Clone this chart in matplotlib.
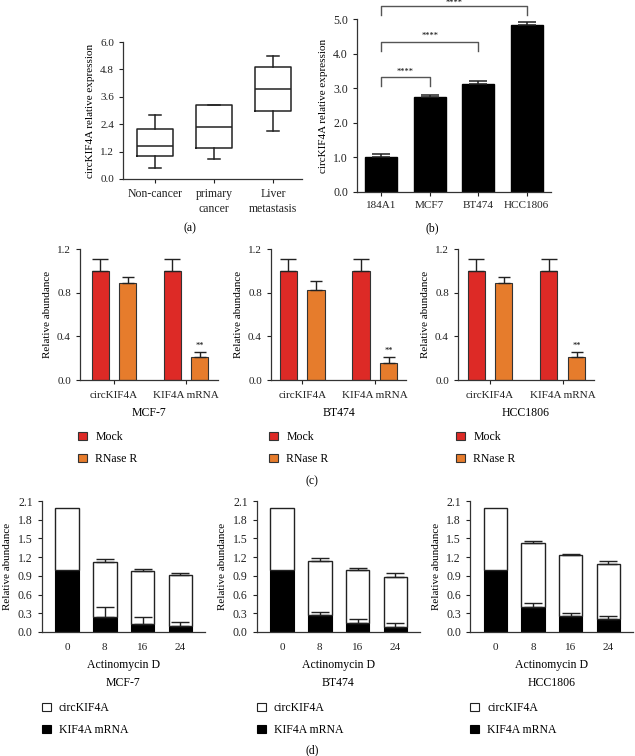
import numpy as np
import matplotlib
matplotlib.use("Agg")
import matplotlib.pyplot as plt
from matplotlib.patches import Patch

plt.rcParams['font.family'] = ['Liberation Serif', 'DejaVu Serif']
plt.rcParams['font.size'] = 8

# (a) box plot stats
groups_a = ["Non-cancer", "primary\ncancer", "Liver\nmetastasis"]
whislo_a = [0.47, 0.87, 2.11]
q1_a = [1.02, 1.34, 2.96]
med_a = [1.44, 2.26, 3.96]
q3_a = [2.21, 3.22, 4.89]
whishi_a = [2.80, 3.26, 5.40]

# (b) cell line expression
cells_b = ["184A1", "MCF7", "BT474", "HCC1806"]
expr_b = [1.0, 2.74, 3.12, 4.84]
err_b = [0.09, 0.07, 0.08, 0.06]
brackets_b = [(0, 1, 3.31), (0, 2, 4.34), (0, 3, 5.39)]

# (c) RNase R assay
cells_c = ["MCF-7", "BT474", "HCC1806"]
genes_c = ["circKIF4A", "KIF4A mRNA"]
mock_c = [[1.0, 1.0], [1.0, 1.0], [1.0, 1.0]]
mock_err_c = [[0.105, 0.105], [0.105, 0.105], [0.105, 0.105]]
rnase_c = [[0.885, 0.208], [0.82, 0.156], [0.885, 0.208]]
rnase_err_c = [[0.055, 0.05], [0.09, 0.052], [0.055, 0.05]]

# (d) actinomycin D time course
times_d = ["0", "8", "16", "24"]
mrna_d = [[1.0, 0.235, 0.133, 0.096],
          [1.0, 0.267, 0.144, 0.085],
          [1.0, 0.40, 0.256, 0.203]]
mrna_err_d = [[0, 0.17, 0.10, 0.07],
              [0, 0.053, 0.059, 0.059],
              [0, 0.064, 0.054, 0.047]]
circ_d = [[0.98, 0.89, 0.847, 0.814],
          [0.98, 0.879, 0.842, 0.80],
          [0.98, 1.023, 0.974, 0.895]]
circ_err_d = [[0, 0.042, 0.03, 0.033],
              [0, 0.037, 0.032, 0.053],
              [0, 0.037, 0.028, 0.042]]

RED = '#dd2a26'
ORANGE = '#e67c2c'
W, H = 635, 756

fig = plt.figure(figsize=(W / 100, H / 100), dpi=100)


def px_axes(x0, y0, x1, y1):
    return fig.add_axes([x0 / W, 1 - y1 / H, (x1 - x0) / W, (y1 - y0) / H])


def style(ax, fs=8):
    for s in ['top', 'right']:
        ax.spines[s].set_visible(False)
    for s in ['left', 'bottom']:
        ax.spines[s].set_linewidth(0.9)
        ax.spines[s].set_color('#333333')
    ax.tick_params(direction='out', length=3, width=0.8, labelsize=fs, colors='#222222')


def ftext(x, y, s, **kw):
    fig.text(x / W, 1 - y / H, s, ha='center', va='center', **kw)


# ---- (a)
ax = px_axes(123, 42, 302, 179)
stats = [dict(whislo=whislo_a[i], q1=q1_a[i], med=med_a[i], q3=q3_a[i],
              whishi=whishi_a[i], fliers=[]) for i in range(3)]
lp = dict(color='#222222', lw=1.1)
ax.bxp(stats, positions=range(3), widths=0.61, capwidths=0.2, showfliers=False,
       boxprops=lp, medianprops=lp, whiskerprops=lp, capprops=lp)
ax.set_xlim(-0.54, 2.49)
ax.set_ylim(0, 6)
ax.set_yticks(np.arange(0, 6.01, 1.2))
ax.set_yticklabels(['%.1f' % v for v in np.arange(0, 6.01, 1.2)])
ax.set_xticks(range(3))
ax.set_xticklabels(groups_a, fontsize=8.5, linespacing=1.3)
ax.set_ylabel("circKIF4A relative expression", fontsize=8)
style(ax)
ax.tick_params(axis='x', labelsize=8.5)
ftext(190, 228, "(a)", fontsize=8.5)

# ---- (b)
ax = px_axes(357, 19, 551, 192)
xb = np.arange(len(cells_b))
ax.bar(xb, expr_b, width=0.66, color='black', edgecolor='black')
ax.errorbar(xb, expr_b, yerr=[np.zeros(len(err_b)), err_b], fmt='none',
            ecolor='#222222', elinewidth=1.1, capsize=6.5, capthick=1.1)
for a, b, h in brackets_b:
    ax.plot([a, a, b, b], [h - 0.26, h, h, h - 0.26], color='#555555', lw=1.0, clip_on=False)
    if h > 5:
        ax.text((a + b) / 2, 5.46, "****", ha='center', va='center', fontsize=6, clip_on=False)
    else:
        ax.text((a + b) / 2, h + 0.06, "****", ha='center', va='bottom', fontsize=6, clip_on=False)
ax.set_xlim(-0.5, 3.5)
ax.set_ylim(0, 5)
ax.set_yticks(np.arange(0, 5.01, 1.0))
ax.set_yticklabels(['%.1f' % v for v in np.arange(0, 5.01, 1.0)])
ax.set_xticks(xb)
ax.set_xticklabels(cells_b)
ax.set_ylabel("circKIF4A relative expression", fontsize=8)
style(ax)
ax.tick_params(axis='y', labelsize=8.5)
ftext(432, 228, "(b)", fontsize=8.5)

# ---- (c)
c_boxes = [(80, 218, -0.47, 1.44), (271, 406, -0.43, 1.43), (458, 594, -0.44, 1.43)]
for i, (x0, x1, xl, xr) in enumerate(c_boxes):
    ax = px_axes(x0, 249, x1, 380)
    xg = np.arange(len(genes_c))
    ax.bar(xg - 0.19, mock_c[i], width=0.235, color=RED, edgecolor='#333333', lw=0.8)
    ax.bar(xg + 0.19, rnase_c[i], width=0.235, color=ORANGE, edgecolor='#333333', lw=0.8)
    ax.errorbar(xg - 0.19, mock_c[i], yerr=[[0, 0], mock_err_c[i]], fmt='none',
                ecolor='#222222', elinewidth=1.0, capsize=5.5, capthick=1.0)
    ax.errorbar(xg + 0.19, rnase_c[i], yerr=[[0, 0], rnase_err_c[i]], fmt='none',
                ecolor='#222222', elinewidth=1.0, capsize=4.5, capthick=1.0)
    ax.text(1 + 0.19, rnase_c[i][1] + rnase_err_c[i][1] + 0.02, "**", ha='center',
            va='bottom', fontsize=6)
    ax.set_xlim(xl, xr)
    ax.set_ylim(0, 1.2)
    ax.set_yticks([0, 0.4, 0.8, 1.2])
    ax.set_yticklabels(['0.0', '0.4', '0.8', '1.2'])
    ax.set_xticks(xg)
    ax.set_xticklabels(genes_c)
    ax.set_ylabel("Relative abundance", fontsize=8)
    style(ax)
    ax.tick_params(axis='x', pad=5)
    ftext((x0 + x1) / 2, 413, cells_c[i], fontsize=8.5)
    handles = [Patch(facecolor=RED, edgecolor='#333333', lw=0.8),
               Patch(facecolor=ORANGE, edgecolor='#333333', lw=0.8)]
    fig.legend(handles, ["Mock", "RNase R"], loc='upper left',
               bbox_to_anchor=((x0 - 2) / W, 1 - 431 / H), frameon=False,
               handlelength=0.75, handleheight=0.75, handletextpad=0.7,
               labelspacing=0.85, fontsize=8.5, borderaxespad=0, borderpad=0)
ftext(312, 481, "(c)", fontsize=8.5)

# ---- (d)
d_boxes = [(41.7, 205), (256.7, 420), (470, 633)]
for i, (x0, x1) in enumerate(d_boxes):
    ax = px_axes(x0, 501, x1, 632)
    xt = np.arange(len(times_d))
    ax.bar(xt, mrna_d[i], width=0.62, color='black', edgecolor='black', lw=0.8)
    ax.bar(xt, circ_d[i], width=0.62, bottom=mrna_d[i], color='white',
           edgecolor='#222222', lw=1.0)
    tot = np.array(mrna_d[i]) + np.array(circ_d[i])
    ax.errorbar(xt[1:], tot[1:], yerr=[np.zeros(3), circ_err_d[i][1:]], fmt='none',
                ecolor='#222222', elinewidth=1.0, capsize=6.5, capthick=1.0)
    ax.errorbar(xt[1:], mrna_d[i][1:], yerr=[np.zeros(3), mrna_err_d[i][1:]], fmt='none',
                ecolor='#222222', elinewidth=1.0, capsize=6.5, capthick=1.0)
    ax.set_xlim(-0.67, 3.65)
    ax.set_ylim(0, 2.1)
    yt = np.arange(0, 2.11, 0.3)
    ax.set_yticks(yt)
    ax.set_yticklabels(['%.1f' % v for v in yt])
    ax.set_xticks(xt)
    ax.set_xticklabels(times_d)
    ax.set_ylabel("Relative abundance", fontsize=8)
    style(ax)
    ax.tick_params(axis='y', labelsize=8.5)
    ax.tick_params(axis='x', length=0, pad=8)
    cx = (x0 + x1) / 2
    ftext(cx, 665, "Actinomycin D", fontsize=8.5)
    ftext(cx, 683, cells_c[i], fontsize=8.5)
    handles = [Patch(facecolor='white', edgecolor='#222222', lw=0.8),
               Patch(facecolor='black', edgecolor='black', lw=0.8)]
    fig.legend(handles, ["circKIF4A", "KIF4A mRNA"], loc='upper left',
               bbox_to_anchor=(x0 / W, 1 - 702 / H), frameon=False,
               handlelength=0.75, handleheight=0.75, handletextpad=0.7,
               labelspacing=0.85, fontsize=8.5, borderaxespad=0, borderpad=0)
ftext(312, 750, "(d)", fontsize=8.5)

fig.savefig("out.png", dpi=100)
